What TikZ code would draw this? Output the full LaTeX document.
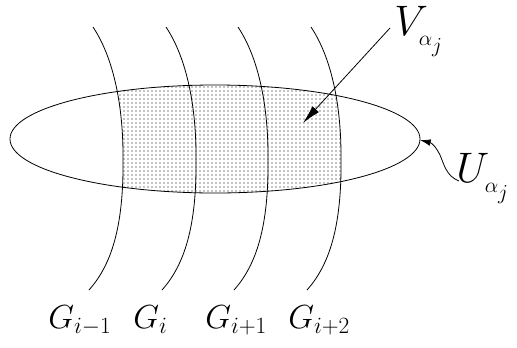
\RequirePackage{fix-cm}
\documentclass[tikz,border=0pt]{standalone}
\usetikzlibrary{arrows.meta,patterns}

\begin{document}
\begin{tikzpicture}[
  x=0.75pt,y=-0.75pt,
  line width=0.6pt,
  >={Latex[length=14pt,width=6.5pt]},
  curve/.style={draw=black,line width=0.6pt},
  patch/.style={pattern=dots,pattern color=black},
  glab/.style={anchor=base west,inner sep=0pt,font=\fontsize{25}{29}\selectfont},
  setlab/.style={anchor=base west,inner sep=0pt,font=\fontsize{32}{36}\selectfont},
]
\useasboundingbox (0,0) rectangle (517,347);

% ---- dotted part between first and last curve ------------------------------
\begin{scope}
  \clip (215,139) ellipse [x radius=205,y radius=54];
  \fill[patch] (93,27) .. controls (115,60) and (123,110) .. (123,155)
     .. controls (124,220) and (114,262) .. (89,290)
     -- (307,290) .. controls (332,262) and (342,220) .. (341,155)
     .. controls (341,110) and (333,60) .. (311,27) -- cycle;
\end{scope}

% ---- the set U and the curves G -------------------------------------------
\draw[curve] (215,139) ellipse [x radius=205,y radius=54];
\coordinate (utip) at (420,140);
\foreach \dx in {0,73,145,218}
  \draw[curve,shift={(\dx,0)}] (93,27) .. controls (115,60) and (123,110) .. (123,155)
     .. controls (124,220) and (114,262) .. (89,290);

% ---- labels ----------------------------------------------------------------
\node[glab] (gim) at (48,328)  {$G_{i-1}$};
\node[glab] (gi)  at (133,328) {$G_i$};
\node[glab] (gip) at (205,328) {$G_{i+1}$};
\node[glab] (gipp) at (288,328) {$G_{i+2}$};

\node[setlab] (vlab) at (394,35)
  {$V_{\lower3pt\hbox{$\scriptscriptstyle\alpha_j$}}$};
\node[setlab] (ulab) at (456,182)
  {$U_{\lower3pt\hbox{$\scriptscriptstyle\alpha_j$}}$};

% ---- pointers --------------------------------------------------------------
\coordinate (vtail) at (390,28);
\coordinate (vtip)  at (303,123);
\draw[->] (vtail) -- (vtip);

\coordinate (utail) at (459,181);
\draw[-{Latex[length=8pt,width=5pt]}] (utail) .. controls (446,176) and (444,164) .. (440,155)
   .. controls (436,147) and (432,143) .. (utip);

\end{tikzpicture}
\end{document}
